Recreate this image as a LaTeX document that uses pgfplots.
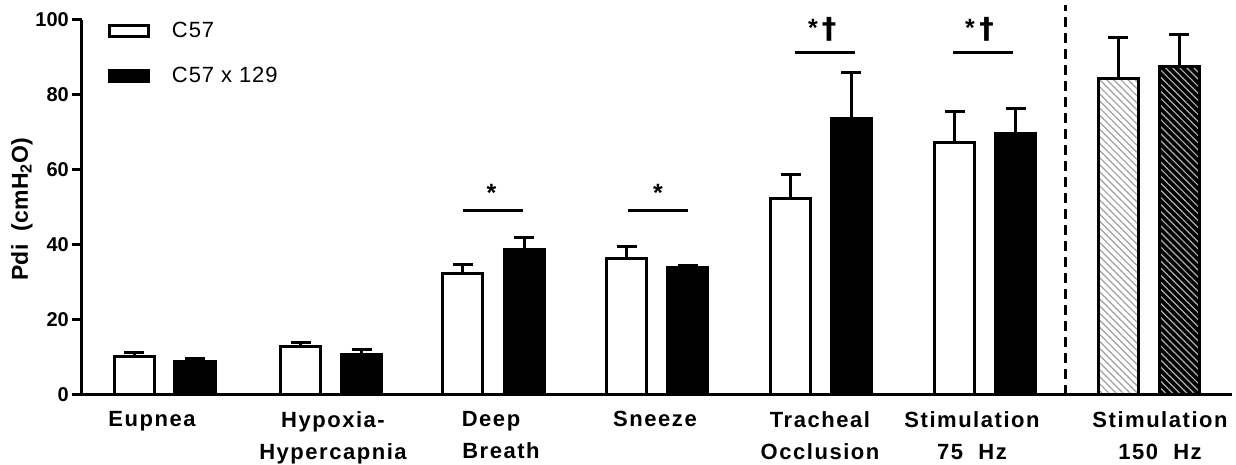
\documentclass[border=0pt]{standalone}
\usepackage{fontspec}
\setmainfont{Liberation Sans}
\newfontfamily\spaced[LetterSpace=7]{Liberation Sans}
\newfontfamily\spacedleg[LetterSpace=4]{Liberation Sans}
\newfontfamily\spacedlab[LetterSpace=1]{Liberation Sans}
\newfontfamily\dagfont{DejaVu Sans}
\usepackage{pgfplots}
\pgfplotsset{compat=1.18}
\usetikzlibrary{patterns.meta}
\pgfplotsset{
  errs/.style={error bars/.cd, y dir=plus, y explicit,
    error bar style={line width=3pt, black},
    error mark options={rotate=90, mark size=10pt, line width=3pt, black}},
  barbase/.style={ybar, bar width=40pt, bar shift=0pt, line width=3pt, draw=black, forget plot},
  wleg/.style={legend image code/.code={\draw[line width=3pt, draw=black, fill=white] (1.5pt,-5.5pt) rectangle (40.5pt,5.5pt); \path[draw=none, fill=none] (0pt,0pt) -- (64pt,0pt);}},
  bleg/.style={legend image code/.code={\draw[line width=3pt, draw=black, fill=black] (1.5pt,-5.5pt) rectangle (40.5pt,5.5pt); \path[draw=none, fill=none] (0pt,0pt) -- (64pt,0pt);}},
}
\begin{document}
\begin{tikzpicture}
\begin{axis}[
  name=ax,
  scale only axis, width=1150pt, height=375pt,
  xmin=82, xmax=1232, ymin=0, ymax=100,
  clip=false,
  axis lines=left,
  axis line style={line width=3pt, -},
  tick align=outside,
  major tick length=10pt,
  ytick={0,20,40,60,80,100},
  y tick style={line width=3pt, black},
  yticklabel style={font=\fontsize{20}{20}\selectfont\bfseries, inner sep=0pt, xshift=-3pt},
  /pgf/number format/assume math mode=true,
  xtick={152,333,501,655,820,972,1160},
  xticklabels={Eupnea, {Hypoxia-\\Hypercapnia}, {Deep\hspace*{20pt}\\Breath}, Sneeze, {Tracheal\\Occlusion}, {Stimulation\\75\ \ Hz}, {Stimulation\\150\ \ Hz}},
  x tick style={draw=none},
  xticklabel style={font=\spaced\fontsize{22}{32}\selectfont\bfseries, align=center, inner sep=0pt, anchor=north, yshift=-6pt},
  ylabel={Pdi\ \ (cmH\textsubscript{2}O)},
  ylabel style={font=\spacedlab\fontsize{23}{23}\selectfont\bfseries, at={(axis cs:22,49.5)}, anchor=center},
  legend style={draw=none, fill=none, inner sep=0pt, outer sep=0pt,
    at={(axis cs:108,99.33)}, anchor=north west, row sep=28pt,
    font=\spacedleg\fontsize{22}{22}\selectfont, nodes={inner sep=0pt}},
  legend cell align=left,
]
% white bars (C57)
\addplot[barbase, fill=white, errs] coordinates {
  (134.5,10.2) +- (0,1.0)
  (300.5,12.8) +- (0,1.1)
  (462.5,32.5) +- (0,2.4)
  (626.5,36.5) +- (0,3.2)
  (790.5,52.5) +- (0,6.2)
  (954.5,67.2) +- (0,8.5)
};
% black bars (C57 x 129)
\addplot[barbase, fill=black, errs] coordinates {
  (195,8.8) +- (0,0.8)
  (361.5,10.9) +- (0,1.1)
  (524,38.7) +- (0,3.4)
  (687.5,34.1) +- (0,0.5)
  (851,73.6) +- (0,12.3)
  (1015.5,69.6) +- (0,6.7)
};
% 150 Hz hatched bars: base fill, then hatch overlay
\addplot[barbase, fill=white, errs] coordinates {(1118,84.3) +- (0,10.9)};
\addplot[barbase, pattern={Lines[angle=-45,distance=5pt,line width=1.2pt]}, pattern color=gray!75] coordinates {(1118,84.3)};
\addplot[barbase, fill=black, errs] coordinates {(1179,87.5) +- (0,8.5)};
\addplot[barbase, pattern={Lines[angle=-45,distance=5pt,line width=1.2pt]}, pattern color=gray!60] coordinates {(1179,87.5)};
% dashed separator
\addplot[forget plot, black, line width=3pt, dash pattern=on 10pt off 6pt] coordinates {(1065,0) (1065,104)};
% significance lines
\addplot[forget plot, black, line width=3pt] coordinates {(463.3,49.1) (522.7,49.1)};
\addplot[forget plot, black, line width=3pt] coordinates {(628.3,49.1) (688.3,49.1)};
\addplot[forget plot, black, line width=3pt] coordinates {(795,91.2) (855,91.2)};
\addplot[forget plot, black, line width=3pt] coordinates {(953.3,91.2) (1013.3,91.2)};
\node[anchor=base, font=\fontsize{25}{25}\selectfont\bfseries, inner sep=0pt] at (axis cs:491.5,51.6) {*};
\node[anchor=base, font=\fontsize{25}{25}\selectfont\bfseries, inner sep=0pt] at (axis cs:658,51.6) {*};
\node[anchor=base, font=\fontsize{25}{25}\selectfont\bfseries, inner sep=0pt] at (axis cs:813,95.6) {*};
\node[anchor=base, font=\dagfont\fontsize{29}{29}\selectfont\bfseries, inner sep=0pt] at (axis cs:829,95.0) {†};
\node[anchor=base, font=\fontsize{25}{25}\selectfont\bfseries, inner sep=0pt] at (axis cs:970,95.6) {*};
\node[anchor=base, font=\dagfont\fontsize{29}{29}\selectfont\bfseries, inner sep=0pt] at (axis cs:986.5,95.0) {†};
% legend
\addlegendimage{wleg}\addlegendentry{C57}
\addlegendimage{bleg}\addlegendentry{C57 x 129}
\end{axis}
\pgfresetboundingbox
\path[use as bounding box] ([shift={(-82pt,-70pt)}]ax.south west) rectangle ([shift={(1154pt,395pt)}]ax.south west);
\end{tikzpicture}
\end{document}
